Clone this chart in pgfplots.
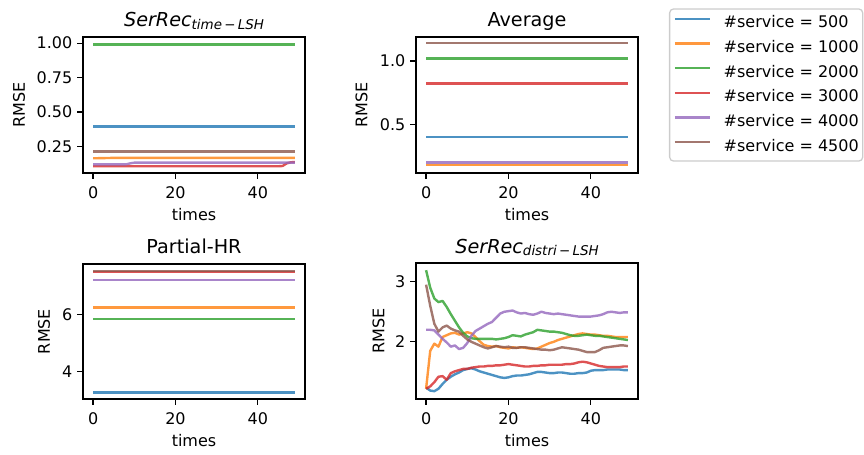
\documentclass[border=0pt]{standalone}
\usepackage{fontspec}
\setmainfont{DejaVu Sans}
\usepackage{pgfplots}
\pgfplotsset{compat=1.18}
\definecolor{C0}{HTML}{1F77B4}
\definecolor{C1}{HTML}{FF7F0E}
\definecolor{C2}{HTML}{2CA02C}
\definecolor{C3}{HTML}{D62728}
\definecolor{C4}{HTML}{9467BD}
\definecolor{C5}{HTML}{8C564B}
\pgfplotsset{
  panel/.style={
    scale only axis, width=138.75pt, height=85pt, anchor=south west,
    xmin=-2.45, xmax=51.45, xtick={0,20,40}, xticklabels={0,20,40},
    tick align=outside, xtick pos=left, ytick pos=left,
    major tick length=3.5pt,
    tick style={black, line width=0.8pt},
    axis line style={line width=0.8pt, black},
    tick label style={font=\fontsize{10}{12}\selectfont, inner sep=0pt},
    xticklabel style={anchor=north, yshift=-5pt},
    yticklabel style={anchor=east, xshift=-3pt},
    xlabel=times, ylabel=RMSE,
    label style={font=\fontsize{10}{12}\selectfont},
    xlabel style={at={(axis description cs:0.5,0)}, anchor=base, yshift=-29.4pt},
    every axis title/.style={at={(axis description cs:0.5,1)}, anchor=base, yshift=6.25pt, font=\fontsize{12}{14}\selectfont},
    every axis plot/.append style={line width=1.5pt, draw opacity=0.8, line join=round},
  }
}
\begin{document}
\begin{tikzpicture}
\useasboundingbox (0,0) rectangle (540pt,283.75pt);
% ---------------- Panel 1
\begin{axis}[panel, at={(51.875pt,175.625pt)},
  ymin=0.055, ymax=1.045, ytick={0.25,0.5,0.75,1}, yticklabels={0.25,0.50,0.75,1.00},
  ylabel style={at={(axis description cs:-0.288,0.5)}, anchor=center},
  title={\itshape SerRec\raisebox{-1.5pt}{\fontsize{8.4}{10}\selectfont time\,−\,LSH}}]
\addplot[C0] coordinates {(0,0.394) (49,0.394)};
\addplot[C1] coordinates {(0,0.162) (5,0.165) (49,0.165)};
\addplot[C2] coordinates {(0,0.990) (49,0.990)};
\addplot[C3] coordinates {(0,0.104) (45,0.104) (46,0.106) (47,0.125) (48,0.133) (49,0.135)};
\addplot[C4] coordinates {(0,0.118) (8,0.118) (9,0.125) (10,0.130) (49,0.130)};
\addplot[C5] coordinates {(0,0.211) (49,0.211)};
\end{axis}
% ---------------- Panel 2
\begin{axis}[panel, at={(260pt,175.625pt)},
  ymin=0.115, ymax=1.19, ytick={0.5,1}, yticklabels={0.5,1.0},
  ylabel style={at={(axis description cs:-0.2455,0.5)}, anchor=center},
  title={Average},
  legend style={at={(1.1396,1.211)}, anchor=north west, draw=black!20, line width=0.8pt,
    rounded corners=2.5pt, fill=white, font=\fontsize{10}{12}\selectfont,
    inner xsep=2.5pt, inner ysep=4.3pt, row sep=5.9pt, column sep=7.8pt,
    nodes={inner sep=0pt, text height=7.6pt, text depth=1.9pt}},
  legend cell align=left,
  legend image code/.code={\draw[#1] (0pt,2.8pt) -- (22pt,2.8pt);}]
\addplot[C0] coordinates {(0,0.401) (49,0.401)};
\addlegendentry{\#service = 500}
\addplot[C1] coordinates {(0,0.178) (49,0.178)};
\addlegendentry{\#service = 1000}
\addplot[C2] coordinates {(0,1.019) (49,1.019)};
\addlegendentry{\#service = 2000}
\addplot[C3] coordinates {(0,0.822) (49,0.822)};
\addlegendentry{\#service = 3000}
\addplot[C4] coordinates {(0,0.199) (49,0.199)};
\addlegendentry{\#service = 4000}
\addplot[C5] coordinates {(0,1.141) (49,1.141)};
\addlegendentry{\#service = 4500}
\end{axis}
% ---------------- Panel 3
\begin{axis}[panel, at={(51.875pt,34.375pt)}, height=84.375pt,
  ymin=3.02, ymax=7.78, ytick={4,6}, yticklabels={4,6},
  ylabel style={at={(axis description cs:-0.176,0.5)}, anchor=center},
  title={Partial-HR}]
\addplot[C0] coordinates {(0,3.255) (49,3.255)};
\addplot[C1] coordinates {(0,6.248) (49,6.248)};
\addplot[C2] coordinates {(0,5.850) (49,5.850)};
\addplot[C3] coordinates {(0,7.490) (49,7.490)};
\addplot[C4] coordinates {(0,7.206) (49,7.206)};
\addplot[C5] coordinates {(0,7.525) (49,7.525)};
\end{axis}
% ---------------- Panel 4
\begin{axis}[panel, at={(260pt,34.375pt)},
  ymin=1.05, ymax=3.31, ytick={2,3}, yticklabels={2,3},
  ylabel style={at={(axis description cs:-0.169,0.5)}, anchor=center},
  title={\itshape SerRec\raisebox{-1.5pt}{\fontsize{8.4}{10}\selectfont distri\,−\,LSH}}]
\addplot[C0] coordinates {(0,1.24) (1,1.19) (2,1.18) (3,1.22) (4,1.30) (5,1.37) (6,1.42) (7,1.46) (8,1.49) (9,1.53) (10,1.55) (11,1.56) (12,1.54) (13,1.51) (14,1.49) (15,1.47) (16,1.45) (17,1.43) (18,1.41) (19,1.40) (20,1.41) (21,1.43) (22,1.44) (23,1.44) (24,1.45) (25,1.46) (26,1.48) (27,1.50) (28,1.50) (29,1.49) (30,1.48) (31,1.48) (32,1.49) (33,1.49) (34,1.48) (35,1.47) (36,1.47) (37,1.48) (38,1.48) (39,1.49) (40,1.52) (41,1.53) (42,1.53) (43,1.53) (44,1.54) (45,1.54) (46,1.54) (47,1.54) (48,1.53) (49,1.53)};
\addplot[C1] coordinates {(0,1.22) (1,1.85) (2,1.97) (3,1.92) (4,2.08) (5,2.11) (6,2.14) (7,2.15) (8,2.12) (9,2.14) (10,2.16) (11,2.14) (12,2.08) (13,2.01) (14,1.95) (15,1.93) (16,1.92) (17,1.93) (18,1.91) (19,1.90) (20,1.89) (21,1.91) (22,1.90) (23,1.91) (24,1.90) (25,1.89) (26,1.88) (27,1.89) (28,1.92) (29,1.95) (30,1.98) (31,2.00) (32,2.03) (33,2.05) (34,2.07) (35,2.09) (36,2.11) (37,2.13) (38,2.14) (39,2.13) (40,2.12) (41,2.12) (42,2.11) (43,2.10) (44,2.10) (45,2.09) (46,2.08) (47,2.08) (48,2.08) (49,2.08)};
\addplot[C2] coordinates {(0,3.19) (1,2.90) (2,2.72) (3,2.66) (4,2.68) (5,2.58) (6,2.46) (7,2.35) (8,2.24) (9,2.15) (10,2.09) (11,2.06) (12,2.05) (13,2.05) (14,2.05) (15,2.05) (16,2.05) (17,2.04) (18,2.05) (19,2.06) (20,2.08) (21,2.11) (22,2.10) (23,2.09) (24,2.12) (25,2.14) (26,2.16) (27,2.20) (28,2.19) (29,2.18) (30,2.17) (31,2.17) (32,2.16) (33,2.15) (34,2.13) (35,2.11) (36,2.10) (37,2.10) (38,2.11) (39,2.12) (40,2.11) (41,2.10) (42,2.10) (43,2.09) (44,2.08) (45,2.07) (46,2.06) (47,2.05) (48,2.04) (49,2.03)};
\addplot[C3] coordinates {(0,1.22) (1,1.26) (2,1.33) (3,1.42) (4,1.43) (5,1.37) (6,1.48) (7,1.51) (8,1.53) (9,1.55) (10,1.55) (11,1.57) (12,1.58) (13,1.59) (14,1.59) (15,1.60) (16,1.60) (17,1.61) (18,1.61) (19,1.62) (20,1.63) (21,1.62) (22,1.61) (23,1.60) (24,1.59) (25,1.59) (26,1.60) (27,1.60) (28,1.61) (29,1.61) (30,1.62) (31,1.62) (32,1.62) (33,1.62) (34,1.63) (35,1.63) (36,1.64) (37,1.66) (38,1.67) (39,1.66) (40,1.64) (41,1.62) (42,1.60) (43,1.59) (44,1.58) (45,1.58) (46,1.58) (47,1.58) (48,1.59) (49,1.59)};
\addplot[C4] coordinates {(0,2.20) (1,2.20) (2,2.19) (3,2.12) (4,2.05) (5,1.99) (6,1.92) (7,1.94) (8,1.88) (9,1.90) (10,1.98) (11,2.10) (12,2.18) (13,2.22) (14,2.26) (15,2.30) (16,2.33) (17,2.40) (18,2.47) (19,2.50) (20,2.51) (21,2.52) (22,2.49) (23,2.47) (24,2.48) (25,2.46) (26,2.45) (27,2.47) (28,2.50) (29,2.48) (30,2.47) (31,2.46) (32,2.47) (33,2.46) (34,2.45) (35,2.44) (36,2.43) (37,2.42) (38,2.42) (39,2.42) (40,2.42) (41,2.43) (42,2.44) (43,2.46) (44,2.49) (45,2.50) (46,2.49) (47,2.48) (48,2.49) (49,2.49)};
\addplot[C5] coordinates {(0,2.95) (1,2.60) (2,2.30) (3,2.17) (4,2.24) (5,2.27) (6,2.22) (7,2.19) (8,2.17) (9,2.10) (10,2.04) (11,2.00) (12,1.97) (13,1.94) (14,1.91) (15,1.89) (16,1.91) (17,1.93) (18,1.92) (19,1.91) (20,1.92) (21,1.90) (22,1.90) (23,1.91) (24,1.91) (25,1.90) (26,1.89) (27,1.88) (28,1.87) (29,1.87) (30,1.86) (31,1.87) (32,1.89) (33,1.91) (34,1.90) (35,1.89) (36,1.88) (37,1.87) (38,1.85) (39,1.83) (40,1.83) (41,1.83) (42,1.86) (43,1.90) (44,1.91) (45,1.92) (46,1.93) (47,1.94) (48,1.94) (49,1.93)};
\end{axis}
\end{tikzpicture}
\end{document}
